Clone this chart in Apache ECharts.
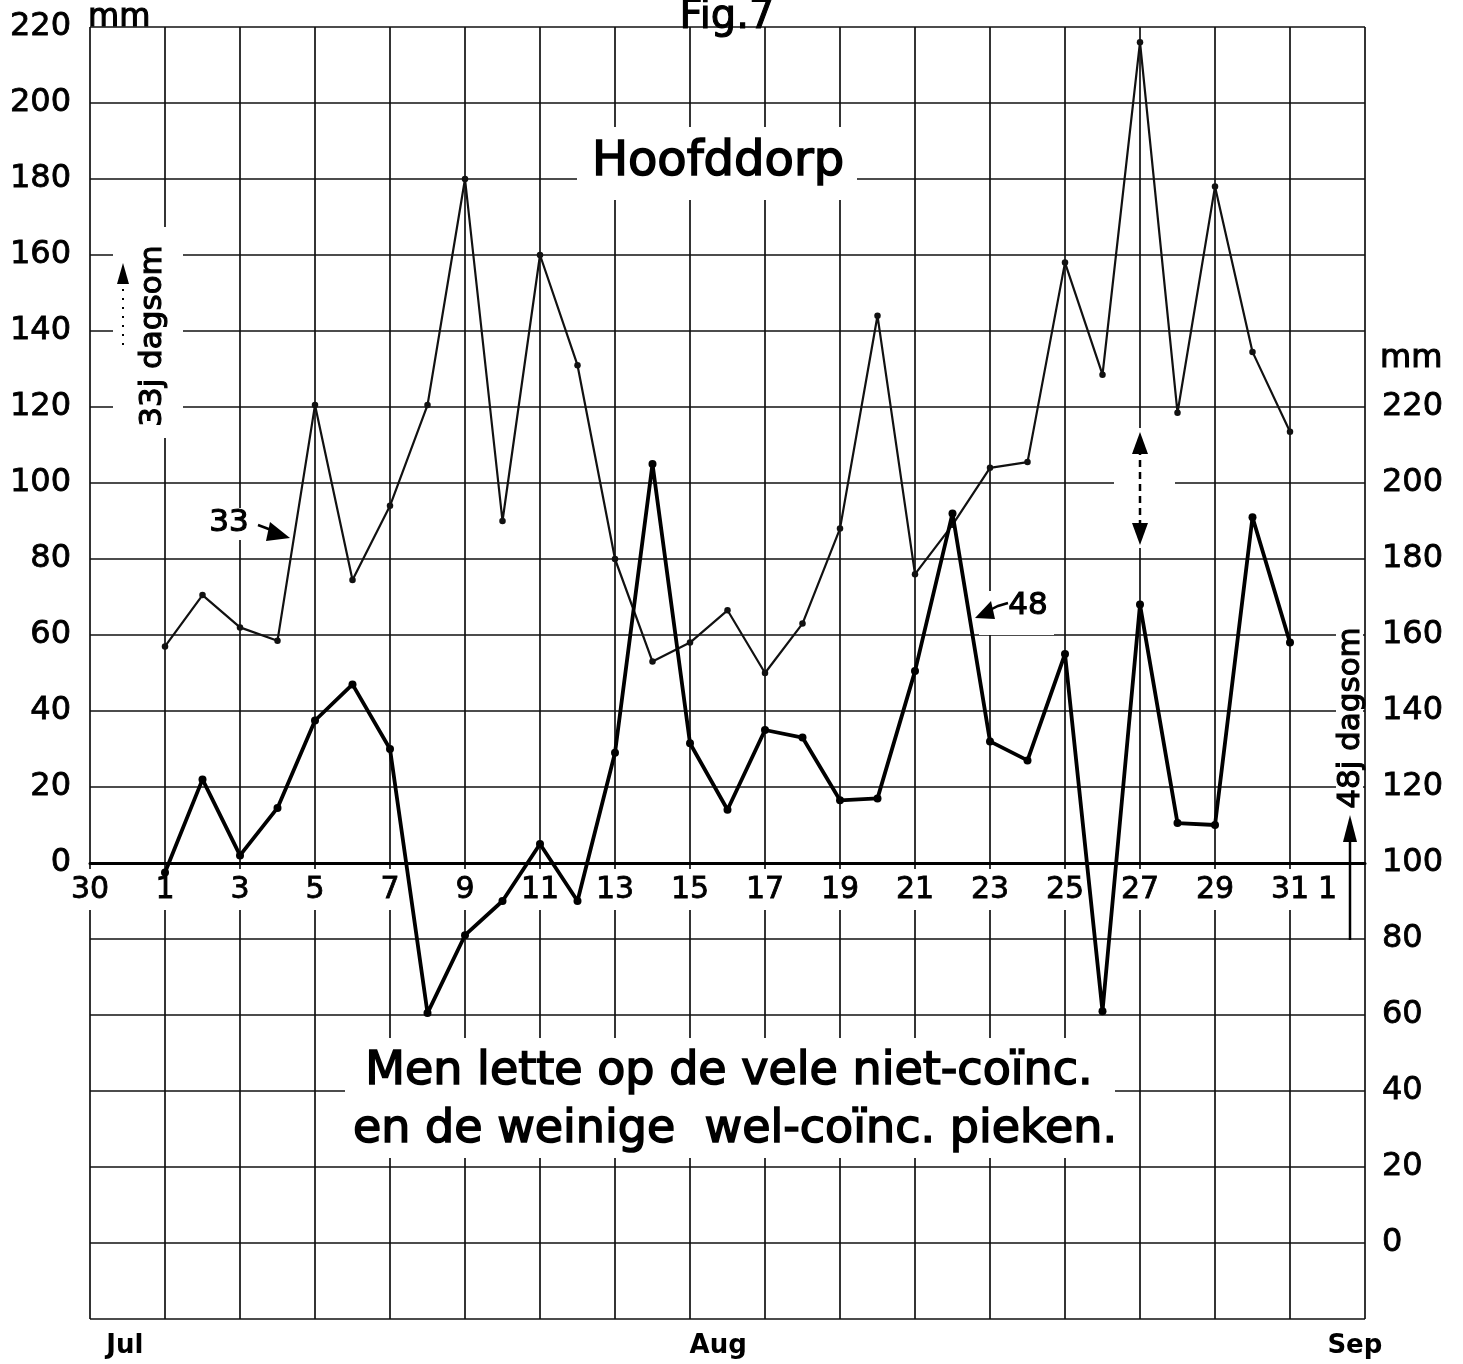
<!DOCTYPE html>
<html>
<head>
<meta charset="utf-8">
<script src="https://cdn.jsdelivr.net/npm/echarts@6/dist/echarts.min.js"></script>
<style>
html,body{margin:0;padding:0;background:#fff;}
#chart{width:1463px;height:1364px;}
</style>
</head>
<body>
<div id="chart"></div>
<script>
// ---- data ----
const augDays = [1,2,3,4,5,6,7,8,9,10,11,12,13,14,15,16,17,18,19,20,21,22,23,24,25,26,27,28,29,30,31];
// 33-year daily sums (left axis, mm)
const dagsom33 = [57,70.5,62,58.5,120.5,74.5,94,120.5,180,90,160,131,80,53,58,66.5,50,63,88,144,76,89,104,105.5,158,128.5,216,118.5,178,134.5,113.5];
// 48-year daily sums (right axis, mm)
const dagsom48 = [97.5,122,102,114.5,137.5,147,130,60.5,81,90,105,90,129,205,131.5,114,135,133,116.5,117,150.5,192,132,127,155,61,168,110.5,110,191,158];

// x axis: 0 = 30 Jul, 2 = 1 Aug ... 32 = 31 Aug, 33 = 1 Sep
const dayTickValues = [0,2,4,6,8,10,12,14,16,18,20,22,24,26,28,30,32,33];
const dayTickLabels = ['30','1','3','5','7','9','11','13','15','17','19','21','23','25','27','29','31','1'];
const monthTickValues = [0.93,16.75,33.73];
const monthTickLabels = ['Jul','Aug','Sep'];

const FONT = 'DejaVu Sans';
const INK = '#000';

const chart = echarts.init(document.getElementById('chart'), null, {renderer:'canvas'});

function txt(text, x, y, size, opts) {
  opts = opts || {};
  return {
    type: 'text', x: x, y: y, rotation: opts.rotation || 0, z: 20,
    style: {
      text: text, fill: INK, stroke: INK, lineWidth: opts.bold == null ? 1.1 : opts.bold,
      font: 'normal ' + size + 'px "' + FONT + '"',
      align: opts.align || 'center', verticalAlign: opts.va || 'middle'
    }
  };
}
function whiteRect(x, y, w, h) {
  return {type:'rect', z: 15, shape:{x:x, y:y, width:w, height:h}, style:{fill:'#fff'}};
}

const option = {
  backgroundColor: '#fff',
  animation: false,
  grid: [
    {left: 90, top: 27, width: 1275, height: 1292, containLabel: false},
    // upper grid whose bottom edge is the 0 line of the left axis (carries the day labels)
    {left: 90, top: 27, width: 1275, height: 836, containLabel: false}
  ],
  xAxis: [
    {
      gridIndex: 0, type: 'value', min: 0, max: 34, interval: 2, position: 'bottom',
      axisLine: {show: false, onZero: false},
      axisTick: {show: false},
      splitLine: {show: true, lineStyle: {color: '#111', width: 1.7}},
      axisLabel: {
        show: true, customValues: monthTickValues,
        formatter: function (v) { const i = monthTickValues.indexOf(v); return i >= 0 ? monthTickLabels[i] : ''; },
        margin: 14, fontSize: 26, fontWeight: 'bold', color: INK, fontFamily: FONT
      }
    },
    {
      gridIndex: 1, type: 'value', min: 0, max: 34, interval: 2, position: 'bottom', z: 5,
      axisLine: {show: true, onZero: false, lineStyle: {color: INK, width: 3}},
      axisTick: {show: false},
      splitLine: {show: false},
      axisLabel: {
        show: true, customValues: dayTickValues,
        formatter: function (v) { const i = dayTickValues.indexOf(v); return i >= 0 ? dayTickLabels[i] : ''; },
        margin: 6, fontSize: 30, color: INK, fontFamily: FONT,
        textBorderColor: INK, textBorderWidth: 0.8,
        backgroundColor: '#fff', padding: [6, 3, 5, 3]
      }
    }
  ],
  yAxis: [
    {
      gridIndex: 0, type: 'value', min: -120, max: 220, interval: 20, position: 'left',
      axisLine: {show: false, onZero: false},
      axisTick: {show: false},
      splitLine: {show: true, lineStyle: {color: '#111', width: 1.7}},
      axisLabel: {
        formatter: function (v) { return v >= 0 ? String(v) : ''; },
        margin: 19, fontSize: 32, color: INK, fontFamily: FONT,
        textBorderColor: INK, textBorderWidth: 0.8
      }
    },
    {
      gridIndex: 0, type: 'value', min: -20, max: 320, interval: 20, position: 'right',
      axisLine: {show: false, onZero: false},
      axisTick: {show: false},
      splitLine: {show: false},
      axisLabel: {
        formatter: function (v) { return (v >= 0 && v <= 220) ? String(v) : ''; },
        margin: 17, fontSize: 32, color: INK, fontFamily: FONT,
        textBorderColor: INK, textBorderWidth: 0.8
      }
    },
    {
      gridIndex: 1, type: 'value', min: 0, max: 220, show: false,
      axisLine: {show: false, onZero: false}, splitLine: {show: false}
    }
  ],
  series: [
    {
      name: '33j dagsom', type: 'line', xAxisIndex: 0, yAxisIndex: 0, z: 10,
      data: augDays.map(function (d, i) { return [d + 1, dagsom33[i]]; }),
      symbol: 'circle', symbolSize: 6.5,
      lineStyle: {color: '#111', width: 2.2},
      itemStyle: {color: '#111'}
    },
    {
      name: '48j dagsom', type: 'line', xAxisIndex: 0, yAxisIndex: 1, z: 11,
      data: augDays.map(function (d, i) { return [d + 1, dagsom48[i]]; }),
      symbol: 'circle', symbolSize: 8,
      lineStyle: {color: INK, width: 3.8},
      itemStyle: {color: INK}
    }
  ],
  graphic: [
    // gaps in the grid behind lettering
    whiteRect(577, 127, 280, 73),
    whiteRect(345, 1038, 770, 120),
    whiteRect(113, 227, 70, 211),
    whiteRect(1336, 622, 27, 190),
    whiteRect(1114, 428, 61, 120),
    whiteRect(979, 591, 75, 44),
    whiteRect(205, 508, 50, 32),
    whiteRect(680, 0, 92, 26),
    // texts
    txt('Fig.7', 727, 18, 40),
    txt('mm', 88, 34, 32, {align: 'left', va: 'bottom'}),
    txt('mm', 1380, 359, 32, {align: 'left'}),
    txt('Hoofddorp', 718, 163, 48, {bold: 1.6}),
    txt('Men lette op de vele niet-coïnc.', 729, 1072, 46, {bold: 1.6}),
    txt('en de weinige  wel-coïnc. pieken.', 735, 1130, 46, {bold: 1.6}),
    txt('33j dagsom', 153, 336, 31, {rotation: Math.PI / 2}),
    txt('48j dagsom', 1351, 718, 31, {rotation: Math.PI / 2}),
    txt('33', 229, 523, 31),
    txt('48', 1028, 606, 31),
    // arrows
    {type: 'polyline', z: 21, shape: {points: [[258, 525], [266, 528], [276, 532]]}, style: {stroke: INK, lineWidth: 2.5}},
    {type: 'polygon', z: 21, shape: {points: [[270, 522], [290, 538], [266, 541]]}, style: {fill: INK}},
    {type: 'polyline', z: 21, shape: {points: [[1008, 603], [998, 606], [988, 611]]}, style: {stroke: INK, lineWidth: 2.5}},
    {type: 'polygon', z: 21, shape: {points: [[975, 618], [991, 601], [995, 619]]}, style: {fill: INK}},
    {type: 'line', z: 21, shape: {x1: 1140, y1: 448, x2: 1140, y2: 530}, style: {stroke: INK, lineWidth: 2.5, lineDash: [7, 5]}},
    {type: 'polygon', z: 21, shape: {points: [[1140, 432], [1132, 454], [1148, 454]]}, style: {fill: INK}},
    {type: 'polygon', z: 21, shape: {points: [[1140, 545], [1132, 523], [1148, 523]]}, style: {fill: INK}},
    {type: 'line', z: 21, shape: {x1: 1350, y1: 940, x2: 1350, y2: 836}, style: {stroke: INK, lineWidth: 2.5}},
    {type: 'polygon', z: 21, shape: {points: [[1350, 815], [1343, 842], [1357, 842]]}, style: {fill: INK}},
    {type: 'line', z: 21, shape: {x1: 123, y1: 345, x2: 123, y2: 284}, style: {stroke: INK, lineWidth: 2, lineDash: [2, 7]}},
    {type: 'polygon', z: 21, shape: {points: [[123, 263], [117, 284], [129, 284]]}, style: {fill: INK}}
  ]
};
chart.setOption(option);
</script>
</body>
</html>
